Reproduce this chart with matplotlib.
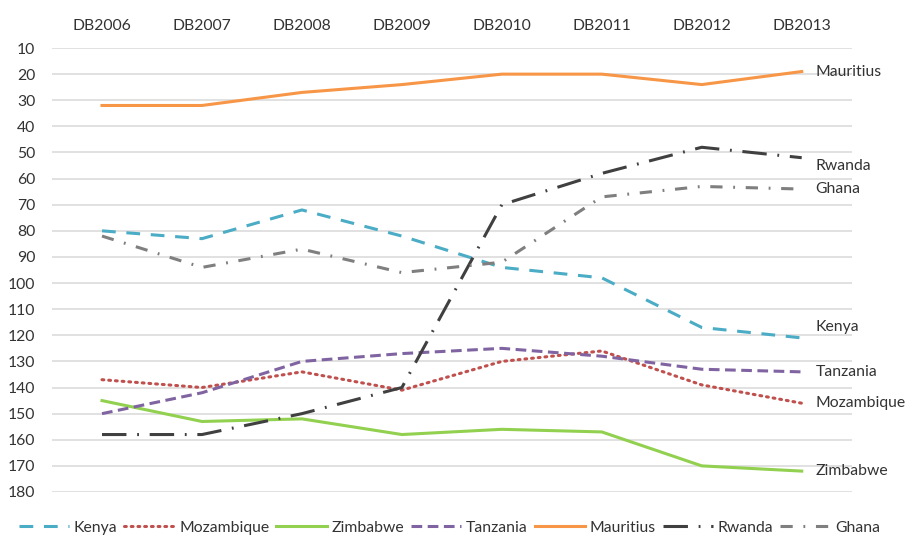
import matplotlib.pyplot as plt

# Doing Business rankings (lower is better)
years = ['DB2006', 'DB2007', 'DB2008', 'DB2009', 'DB2010', 'DB2011', 'DB2012', 'DB2013']
kenya = [80, 83, 72, 82, 94, 98, 117, 121]
mozambique = [137, 140, 134, 141, 130, 126, 139, 146]
zimbabwe = [145, 153, 152, 158, 156, 157, 170, 172]
tanzania = [150, 142, 130, 127, 125, 128, 133, 134]
mauritius = [32, 32, 27, 24, 20, 20, 24, 19]
rwanda = [158, 158, 150, 140, 70, 58, 48, 52]
ghana = [82, 94, 87, 96, 92, 67, 63, 64]

# y positions of the end labels
label_pos = {'Mauritius': 19, 'Rwanda': 55, 'Ghana': 64, 'Kenya': 117,
             'Tanzania': 134, 'Mozambique': 146, 'Zimbabwe': 172}

plt.rcParams['font.family'] = ['Lato', 'DejaVu Sans']

fig = plt.figure(figsize=(9.08, 5.36), dpi=100)
ax = fig.add_axes([0.0573, 0.0821, 0.8807, 0.8283])

x = range(len(years))
lw = 2.2
fs = 11.3
series = [
    ('Kenya', kenya, '#4BACC6', (0, (4.5, 3.5))),
    ('Mozambique', mozambique, '#C0504D', (0, (0.6, 1.6))),
    ('Zimbabwe', zimbabwe, '#92D050', '-'),
    ('Tanzania', tanzania, '#8064A2', (0, (3.5, 1.8))),
    ('Mauritius', mauritius, '#F79646', '-'),
    ('Rwanda', rwanda, '#404040', (0, (8, 3.5, 0.6, 3.5))),
    ('Ghana', ghana, '#7F7F7F', (0, (4, 3.5, 0.6, 3.5))),
]
for name, vals, col, ls in series:
    line, = ax.plot(x, vals, color=col, lw=lw, linestyle=ls, label=name)
    if ls != '-':
        line.set_dash_capstyle('round' if name == 'Mozambique' else 'butt')
    ax.text(7.14, label_pos[name], name, fontsize=fs, color='#333333',
            va='center', ha='left', clip_on=False)

ax.set_xlim(-0.5, 7.5)
ax.set_ylim(180, 10)
ax.set_yticks(range(10, 181, 10))
ax.set_xticks(list(x))
ax.set_xticklabels(years)
ax.xaxis.tick_top()
ax.tick_params(axis='both', length=0, labelsize=fs, colors='#333333')
ax.tick_params(axis='x', pad=11)
ax.tick_params(axis='y', pad=12)
ax.yaxis.grid(True, color='#D9D9D9', lw=1.1)
ax.set_axisbelow(True)
for s in ax.spines.values():
    s.set_visible(False)

fig.legend(loc='center', bbox_to_anchor=(0.495, 0.015), ncol=7, frameon=False,
           fontsize=fs, handlelength=3.2, columnspacing=0.45, handletextpad=0.3,
           labelcolor='#333333')

fig.savefig('out.png', dpi=100)
